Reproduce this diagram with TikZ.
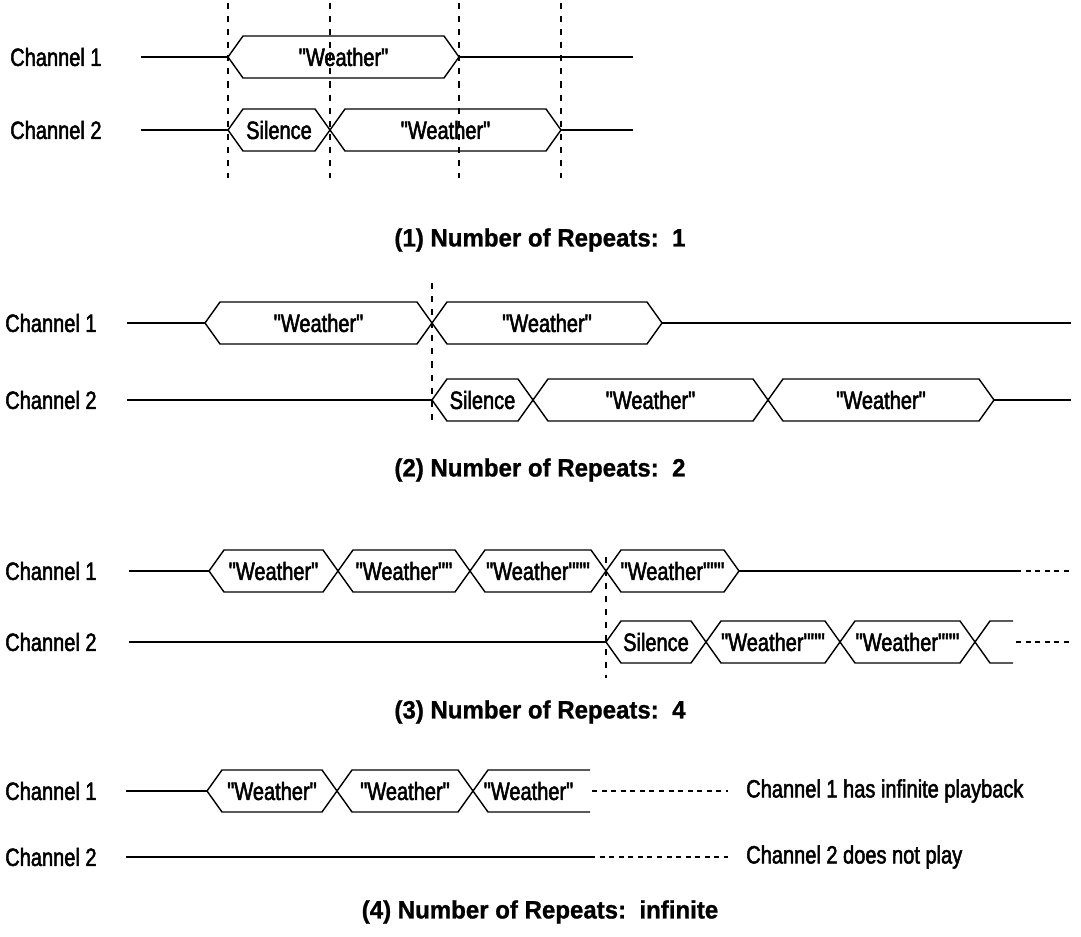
\documentclass[tikz,border=0pt]{standalone}
\usepackage{fontspec}
\newfontfamily\bodyfont{Liberation Sans}[FakeStretch=0.8, FakeBold=2]
\newfontfamily\headfont{Liberation Sans}[FakeStretch=0.96, FakeBold=1]

% one audio segment: name, left tip, right tip, level, text
\newcommand{\segbox}[5]{%
  \draw[sigline] (#2,#4) -- (#2+15,#4-21) -- (#3-15,#4-21) -- (#3,#4)
    -- (#3-15,#4+21) -- (#2+15,#4+21) -- cycle;
  \node[segtext] (#1) at ({(#2+#3)/2},#4) {#5};}
% segment cut off at the right: name, left tip, cut, level, text
\newcommand{\segopen}[5]{%
  \draw[sigline] (#3,#4-21) -- (#2+15,#4-21) -- (#2,#4) -- (#2+15,#4+21) -- (#3,#4+21);
  \node[segtext] (#1) at ({(#2+#3)/2-3},#4) {#5};}

\begin{document}
\begin{tikzpicture}[x=0.025cm, y=-0.025cm,
    font=\bodyfont\fontsize{17.8}{20}\selectfont,
    sigline/.style={line width=1pt, line join=miter},
    marker/.style={line width=1pt, dash pattern=on 4.3pt off 5pt},
    tail/.style={line width=1pt, dash pattern=on 3.6pt off 3.2pt},
    chlabel/.style={anchor=west, inner sep=0pt},
    segtext/.style={inner sep=0pt},
    caption/.style={font=\headfont\bfseries\fontsize{17.8}{20}\selectfont}]
\useasboundingbox (0,0) rectangle (1081,937);

% (1) one repeat
\draw[marker] (228,3) -- (228,178);
\draw[marker] (330,3) -- (330,178);
\draw[marker] (459,3) -- (459,178);
\draw[marker] (561,3) -- (561,178);
\node[chlabel] (a1) at (10,57) {Channel 1};
\node[chlabel] (a2) at (10,130) {Channel 2};
\draw[sigline] (141,57) -- (228,57) (459,57) -- (633,57);
\segbox{a1w}{228}{459}{57}{"Weather"}
\draw[sigline] (141,130) -- (228,130) (561,130) -- (633,130);
\segbox{a2s}{228}{330}{130}{Silence}
\segbox{a2w}{330}{561}{130}{"Weather"}
\node[caption] (cap1) at (540,240) {(1) Number of Repeats:\ \ 1};

% (2) two repeats
\draw[marker] (432,283) -- (432,425);
\node[chlabel] (b1) at (5,323) {Channel 1};
\node[chlabel] (b2) at (5,400) {Channel 2};
\draw[sigline] (127,323) -- (205,323) (662,323) -- (1071,323);
\segbox{b1w}{205}{432}{323}{"Weather"}
\segbox{b1x}{432}{662}{323}{"Weather"}
\draw[sigline] (127,400) -- (432,400) (994,400) -- (1071,400);
\segbox{b2s}{432}{533}{400}{Silence}
\segbox{b2w}{533}{768}{400}{"Weather"}
\segbox{b2x}{768}{994}{400}{"Weather"}
\node[caption] (cap2) at (540,470) {(2) Number of Repeats:\ \ 2};

% (3) four repeats
\draw[marker] (606,557) -- (606,678);
\node[chlabel] (c1) at (5,571) {Channel 1};
\node[chlabel] (c2) at (5,642) {Channel 2};
\draw[sigline] (129,571) -- (209,571) (739,571) -- (1016,571);
\draw[tail] (1016,571) -- (1071,571);
\segbox{c1a}{209}{338}{571}{"Weather"}
\segbox{c1b}{338}{470}{571}{"Weather""}
\segbox{c1c}{470}{606}{571}{"Weather"""}
\segbox{c1d}{606}{739}{571}{"Weather"""}
\draw[sigline] (129,642) -- (606,642);
\segbox{c2s}{606}{706}{642}{Silence}
\segbox{c2a}{706}{840}{642}{"Weather"""}
\segbox{c2b}{840}{975}{642}{"Weather"""}
\segopen{c2c}{975}{1013}{642}{}
\draw[tail] (1016,642) -- (1071,642);
\node[caption] (cap3) at (540,712) {(3) Number of Repeats:\ \ 4};

% (4) infinite
\node[chlabel] (d1) at (5,791) {Channel 1};
\node[chlabel] (d2) at (5,857) {Channel 2};
\draw[sigline] (126,791) -- (207,791);
\segbox{d1a}{207}{337}{791}{"Weather"}
\segbox{d1b}{337}{473}{791}{"Weather"}
\segopen{d1c}{473}{590}{791}{"Weather"}
\draw[tail] (592,791) -- (728,791);
\node[chlabel] (n1) at (746,791) {Channel 1 has infinite playback};
\draw[sigline] (126,857) -- (590,857);
\draw[tail] (590,857) -- (728,857);
\node[chlabel] (n2) at (746,857) {Channel 2 does not play};
\node[caption] (cap4) at (540,912) {(4) Number of Repeats:\ \ infinite};
\end{tikzpicture}
\end{document}
